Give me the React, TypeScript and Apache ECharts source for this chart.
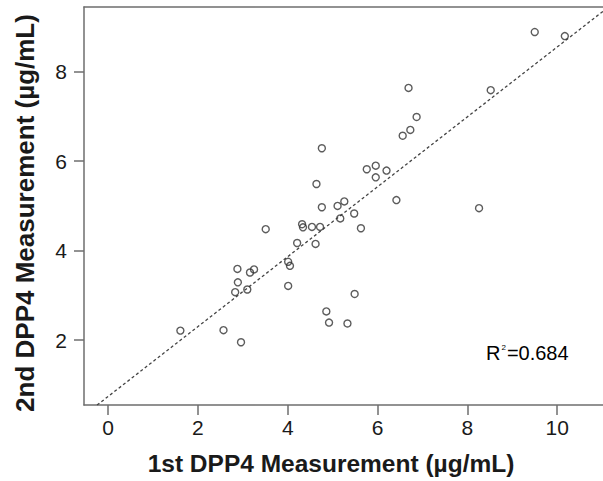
import React, { useEffect, useRef } from "react";
import * as echarts from "echarts";

const firstMeasurement = [
  9.5, 10.17, 6.69, 8.52, 6.87, 6.73, 6.56, 4.76, 4.64, 5.76, 5.96, 5.96,
  6.2, 6.42, 8.26, 4.76, 5.11, 5.26, 5.48, 5.17, 5.63, 4.32, 4.34, 4.54,
  4.72, 4.21, 4.62, 3.51, 4.01, 4.05, 4.01, 2.88, 3.16, 3.25, 2.89, 2.83,
  3.1, 1.61, 2.57, 2.96, 4.86, 4.92, 5.33, 5.49,
];
const secondMeasurement = [
  8.89, 8.8, 7.64, 7.59, 6.99, 6.7, 6.57, 6.29, 5.49, 5.82, 5.9, 5.64,
  5.79, 5.13, 4.95, 4.97, 5.0, 5.1, 4.83, 4.72, 4.5, 4.59, 4.52, 4.53,
  4.53, 4.17, 4.15, 4.48, 3.75, 3.66, 3.21, 3.59, 3.51, 3.58, 3.29, 3.07,
  3.13, 2.21, 2.22, 1.95, 2.64, 2.39, 2.37, 3.03,
];

// Fitted line
const fitIntercept = 0.736;
const fitSlope = 0.782;
const rSquaredLabel = "0.684";

// Axis ranges and ticks
const xMin = -0.536;
const xMax = 11.02;
const yMin = 0.546;
const yMax = 9.45;
const xTickValues = [0, 2, 4, 6, 8, 10];
const yTickValues = [2, 4, 6, 8];

const xTitle = "1st DPP4 Measurement (µg/mL)";
const yTitle = "2nd DPP4 Measurement (µg/mL)";

const FONT = 'Arial, "Liberation Sans", Helvetica, sans-serif';
const AXIS_GRAY = "#6e6e6e";

export default function App() {
  const ref = useRef<HTMLDivElement>(null);

  useEffect(() => {
    if (!ref.current) return;
    const chart = echarts.init(ref.current, null, { renderer: "svg" });

    const points = firstMeasurement.map((x, i) => [x, secondMeasurement[i]]);
    const fitLine = [
      [xMin, fitIntercept + fitSlope * xMin],
      [xMax, fitIntercept + fitSlope * xMax],
    ];

    const axisLine = {
      show: true,
      onZero: false,
      lineStyle: { color: AXIS_GRAY, width: 1.5 },
    };

    chart.setOption({
      animation: false,
      backgroundColor: "#ffffff",
      grid: {
        left: 84,
        top: 7,
        right: -5,
        bottom: 76,
        show: false,
        containLabel: false,
      },
      xAxis: [
        {
          type: "value",
          position: "bottom",
          min: xMin,
          max: xMax,
          splitLine: { show: false },
          axisLine,
          axisTick: {
            show: true,
            length: 10,
            customValues: xTickValues,
            lineStyle: { color: AXIS_GRAY, width: 1.5 },
          },
          axisLabel: {
            customValues: xTickValues,
            margin: 12,
            fontSize: 21,
            fontFamily: FONT,
            color: "#1a1a1a",
          },
        },
        {
          type: "value",
          position: "top",
          min: xMin,
          max: xMax,
          splitLine: { show: false },
          axisLine,
          axisTick: { show: false },
          axisLabel: { show: false },
        },
      ],
      yAxis: {
        type: "value",
        position: "left",
        min: yMin,
        max: yMax,
        splitLine: { show: false },
        axisLine,
        axisTick: {
          show: true,
          length: 10,
          customValues: yTickValues,
          lineStyle: { color: AXIS_GRAY, width: 1.5 },
        },
        axisLabel: {
          customValues: yTickValues,
          margin: 17,
          fontSize: 21,
          fontFamily: FONT,
          color: "#1a1a1a",
        },
      },
      series: [
        {
          type: "line",
          data: fitLine,
          clip: true,
          symbol: "none",
          silent: true,
          lineStyle: { color: "#444444", width: 1.3, type: [3, 2.5] },
          z: 1,
        },
        {
          type: "scatter",
          data: points,
          symbol: "circle",
          symbolSize: 7,
          silent: true,
          itemStyle: {
            color: "rgba(255,255,255,0)",
            borderColor: "#333333",
            borderWidth: 1.4,
          },
          z: 2,
        },
      ],
      graphic: [
        {
          type: "text",
          x: 331,
          y: 463,
          style: {
            text: xTitle,
            fontFamily: FONT,
            fontSize: 24.5,
            fontWeight: "bold",
            fill: "#1a1a1a",
            align: "center",
            verticalAlign: "middle",
          },
        },
        {
          type: "text",
          x: 25,
          y: 213,
          rotation: Math.PI / 2,
          style: {
            text: yTitle,
            fontFamily: FONT,
            fontSize: 26,
            fontWeight: "bold",
            fill: "#1a1a1a",
            align: "center",
            verticalAlign: "middle",
          },
        },
        {
          type: "text",
          x: 486,
          y: 353,
          style: {
            text: "{a|R}{b|2}{a|=" + rSquaredLabel + "}",
            align: "left",
            verticalAlign: "middle",
            rich: {
              a: { fontFamily: FONT, fontSize: 20, color: "#1a1a1a" },
              b: {
                fontFamily: FONT,
                fontSize: 8,
                color: "#1a1a1a",
                verticalAlign: "top",
                padding: [0, 1, 0, 1],
              },
            },
          },
        },
      ],
    });

    return () => chart.dispose();
  }, []);

  return (
    <div
      ref={ref}
      style={{ position: "fixed", left: 0, top: 0, width: 603, height: 481 }}
    />
  );
}
